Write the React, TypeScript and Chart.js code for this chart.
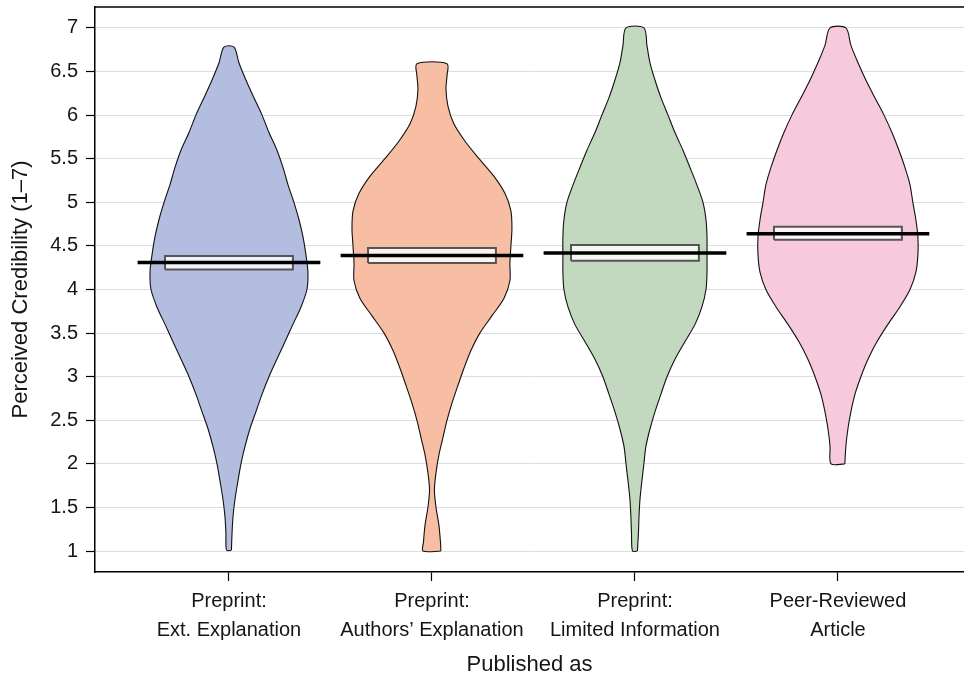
import React, { useEffect, useRef } from 'react';
import { Chart, registerables } from 'chart.js';

Chart.register(...registerables);

// ---------- data ----------
const CATEGORIES: string[][] = [
  ['Preprint:', 'Ext. Explanation'],
  ['Preprint:', 'Authors’ Explanation'],
  ['Preprint:', 'Limited Information'],
  ['Peer-Reviewed', 'Article'],
];
const CAT_POS = [1, 2, 3, 4];
const Y_TICKS = [1, 1.5, 2, 2.5, 3, 3.5, 4, 4.5, 5, 5.5, 6, 6.5, 7];

const MEANS = [4.31, 4.39, 4.42, 4.64];
const CI_LOW = [4.23, 4.305, 4.33, 4.57];
const CI_HIGH = [4.385, 4.475, 4.51, 4.72];

// violin outlines: credibility levels and half-widths (in category units)
const V1_LEVELS = [1.01, 1.2, 1.4, 1.6, 1.8, 2.0, 2.2, 2.4, 2.6, 2.8, 3.0, 3.2, 3.4, 3.6, 3.8, 4.0, 4.2, 4.4, 4.6, 4.8, 5.0, 5.2, 5.4, 5.6, 5.8, 6.0, 6.2, 6.4, 6.6, 6.78];
const V1_HALF = [0.012, 0.015, 0.020, 0.030, 0.044, 0.059, 0.079, 0.103, 0.133, 0.163, 0.197, 0.236, 0.276, 0.315, 0.355, 0.384, 0.389, 0.379, 0.365, 0.345, 0.320, 0.291, 0.266, 0.236, 0.197, 0.163, 0.123, 0.084, 0.049, 0.025];

const V2_LEVELS = [1.0, 1.1, 1.3, 1.5, 1.7, 1.9, 2.1, 2.3, 2.5, 2.7, 2.9, 3.1, 3.3, 3.5, 3.7, 3.9, 4.1, 4.3, 4.5, 4.7, 4.9, 5.1, 5.3, 5.5, 5.7, 5.9, 6.1, 6.3, 6.45, 6.59];
const V2_HALF = [0.044, 0.042, 0.034, 0.020, 0.012, 0.020, 0.034, 0.054, 0.074, 0.099, 0.128, 0.158, 0.192, 0.236, 0.296, 0.355, 0.384, 0.384, 0.389, 0.394, 0.389, 0.360, 0.305, 0.232, 0.163, 0.108, 0.079, 0.069, 0.074, 0.074];

const V3_LEVELS = [1.0, 1.2, 1.4, 1.6, 1.8, 2.0, 2.2, 2.4, 2.6, 2.8, 3.0, 3.2, 3.4, 3.6, 3.8, 4.0, 4.2, 4.4, 4.6, 4.8, 5.0, 5.2, 5.4, 5.6, 5.8, 6.0, 6.2, 6.4, 6.6, 6.8, 7.0];
const V3_HALF = [0.012, 0.017, 0.020, 0.025, 0.034, 0.044, 0.054, 0.074, 0.099, 0.128, 0.158, 0.197, 0.246, 0.296, 0.330, 0.350, 0.355, 0.355, 0.355, 0.350, 0.335, 0.305, 0.271, 0.236, 0.197, 0.163, 0.128, 0.099, 0.074, 0.059, 0.044];

const V4_LEVELS = [2.0, 2.2, 2.4, 2.6, 2.8, 3.0, 3.2, 3.4, 3.6, 3.8, 4.0, 4.2, 4.4, 4.6, 4.8, 5.0, 5.2, 5.4, 5.6, 5.8, 6.0, 6.2, 6.4, 6.6, 6.8, 7.0];
const V4_HALF = [0.034, 0.039, 0.049, 0.064, 0.084, 0.113, 0.148, 0.192, 0.246, 0.305, 0.355, 0.384, 0.394, 0.394, 0.384, 0.369, 0.355, 0.330, 0.300, 0.266, 0.227, 0.182, 0.138, 0.099, 0.064, 0.039];

const VIOLIN_LEVELS = [V1_LEVELS, V2_LEVELS, V3_LEVELS, V4_LEVELS];
const VIOLIN_HALF = [V1_HALF, V2_HALF, V3_HALF, V4_HALF];

// ---------- style ----------
const COLORS = ['#b3bde0', '#f8bea3', '#c3d9bf', '#f6c9dc'];
const FONT = "'Liberation Sans', Arial, Helvetica, sans-serif";
const TEXT = '#151515';
const MEAN_HALF = 0.45;
const BOX_HALF = 0.315;

const framePlugin = {
  id: 'topFrame',
  afterDraw(chart: any) {
    const { ctx, chartArea } = chart;
    ctx.save();
    ctx.strokeStyle = '#000';
    ctx.lineWidth = 1.5;
    ctx.beginPath();
    ctx.moveTo(chartArea.left, chartArea.top);
    ctx.lineTo(chartArea.right, chartArea.top);
    ctx.stroke();
    ctx.restore();
  },
};

export default function App() {
  const ref = useRef<HTMLCanvasElement | null>(null);

  useEffect(() => {
    document.body.style.margin = '0';
    const canvas = ref.current;
    if (!canvas) return;

    const datasets: any[] = [];

    VIOLIN_LEVELS.forEach((levels, i) => {
      const c = CAT_POS[i];
      const half = VIOLIN_HALF[i];
      const right = levels.map((y, k) => ({ x: c + half[k], y }));
      const left = levels.map((y, k) => ({ x: c - half[k], y })).reverse();
      datasets.push({
        data: [...right, ...left, right[0]],
        showLine: true,
        fill: 'shape',
        backgroundColor: COLORS[i],
        borderColor: '#111',
        borderWidth: 1.1,
        pointRadius: 0,
        tension: 0.3,
        order: 3,
      });
    });

    CAT_POS.forEach((c, i) => {
      datasets.push({
        data: [
          { x: c - BOX_HALF, y: CI_LOW[i] },
          { x: c + BOX_HALF, y: CI_LOW[i] },
          { x: c + BOX_HALF, y: CI_HIGH[i] },
          { x: c - BOX_HALF, y: CI_HIGH[i] },
          { x: c - BOX_HALF, y: CI_LOW[i] },
        ],
        showLine: true,
        fill: 'shape',
        backgroundColor: 'rgba(255,255,255,0.8)',
        borderColor: '#555',
        borderWidth: 2,
        pointRadius: 0,
        tension: 0,
        order: 2,
      });
      datasets.push({
        data: [
          { x: c - MEAN_HALF, y: MEANS[i] },
          { x: c + MEAN_HALF, y: MEANS[i] },
        ],
        showLine: true,
        fill: false,
        borderColor: '#000',
        borderWidth: 3.5,
        pointRadius: 0,
        tension: 0,
        order: 1,
      });
    });

    const chart = new Chart(canvas, {
      type: 'scatter',
      data: { datasets },
      plugins: [framePlugin],
      options: {
        responsive: false,
        animation: false,
        layout: { padding: { top: 7, left: 0, right: 0, bottom: 0 } },
        plugins: { legend: { display: false }, tooltip: { enabled: false } },
        scales: {
          x: {
            type: 'linear',
            min: 0.34,
            max: 4.621,
            afterBuildTicks: (s: any) => {
              s.ticks = CAT_POS.map((v) => ({ value: v }));
            },
            afterFit: (s: any) => {
              s.height = 106;
              s.paddingLeft = 0;
              s.paddingRight = 0;
            },
            ticks: {
              autoSkip: false,
              maxRotation: 0,
              padding: 6,
              color: TEXT,
              font: { family: FONT, size: 20, lineHeight: 1.45 },
              callback: (v: any) => CATEGORIES[CAT_POS.indexOf(Number(v))] ?? '',
            },
            grid: { display: true, drawOnChartArea: false, drawTicks: true, tickLength: 9, tickColor: '#000', tickWidth: 1.2 },
            border: { display: true, color: '#000', width: 1.5 },
            title: {
              display: true,
              text: 'Published as',
              color: TEXT,
              font: { family: FONT, size: 22, lineHeight: 1.2 },
              padding: { top: 0, bottom: 0 },
            },
          },
          y: {
            type: 'linear',
            min: 0.76,
            max: 7.24,
            afterBuildTicks: (s: any) => {
              s.ticks = Y_TICKS.map((v) => ({ value: v }));
            },
            afterFit: (s: any) => {
              s.width = 95;
              s.paddingTop = 0;
              s.paddingBottom = 0;
            },
            ticks: {
              padding: 8,
              color: TEXT,
              font: { family: FONT, size: 20 },
              callback: (v: any) => String(v),
            },
            grid: { color: '#dedede', lineWidth: 1, drawTicks: true, tickLength: 9, tickColor: '#000', tickWidth: 1.2 },
            border: { display: true, color: '#000', width: 1.5 },
            title: {
              display: true,
              text: 'Perceived Credibility (1–7)',
              color: TEXT,
              font: { family: FONT, size: 22, lineHeight: 1.2 },
              padding: { top: 8, bottom: 0 },
            },
          },
        },
      },
    });

    return () => chart.destroy();
  }, []);

  return (
    <div style={{ width: 964, height: 678 }}>
      <canvas ref={ref} width={964} height={678} style={{ display: 'block' }} />
    </div>
  );
}
